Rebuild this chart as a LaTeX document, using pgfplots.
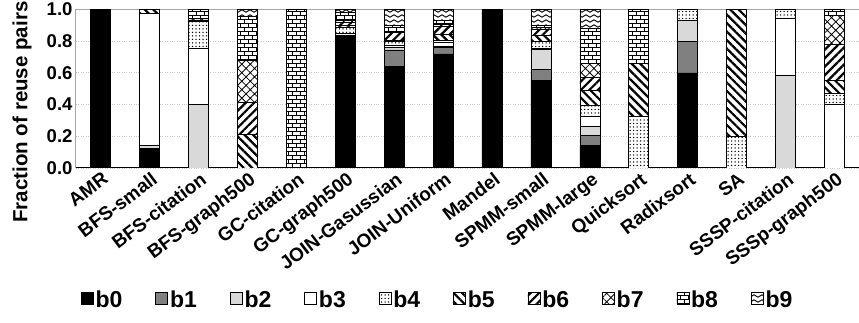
\documentclass[border=0pt]{standalone}
\usepackage{fontspec}
\setmainfont{Liberation Sans}
\usepackage{pgfplots}
\pgfplotsset{compat=1.18}
\usepackage{pgfplotstable}
\usetikzlibrary{patterns,patterns.meta}

\pgfdeclarepatternformonly{mybricks}{\pgfqpoint{-1pt}{-1pt}}{\pgfqpoint{9pt}{9pt}}{\pgfqpoint{8pt}{8pt}}{%
  \pgfsetlinewidth{0.9pt}%
  \pgfpathmoveto{\pgfqpoint{0pt}{0pt}}\pgfpathlineto{\pgfqpoint{8pt}{0pt}}%
  \pgfpathmoveto{\pgfqpoint{0pt}{4pt}}\pgfpathlineto{\pgfqpoint{8pt}{4pt}}%
  \pgfpathmoveto{\pgfqpoint{0pt}{0pt}}\pgfpathlineto{\pgfqpoint{0pt}{4pt}}%
  \pgfpathmoveto{\pgfqpoint{4pt}{4pt}}\pgfpathlineto{\pgfqpoint{4pt}{8pt}}%
  \pgfusepath{stroke}}
\pgfdeclarepatternformonly{mywaves}{\pgfqpoint{-1pt}{-1pt}}{\pgfqpoint{9pt}{6pt}}{\pgfqpoint{8pt}{5pt}}{%
  \pgfsetlinewidth{0.9pt}%
  \pgfpathmoveto{\pgfqpoint{0pt}{2pt}}%
  \pgfpathcurveto{\pgfqpoint{1.3pt}{3.6pt}}{\pgfqpoint{2.7pt}{3.6pt}}{\pgfqpoint{4pt}{2pt}}%
  \pgfpathcurveto{\pgfqpoint{5.3pt}{0.4pt}}{\pgfqpoint{6.7pt}{0.4pt}}{\pgfqpoint{8pt}{2pt}}%
  \pgfusepath{stroke}}

\pgfplotstableread{
idx b0 b1 b2 b3 b4 b5 b6 b7 b8 b9
0 1.0 0 0 0 0 0 0 0 0 0
1 0.12 0.005 0.02 0.83 0 0.025 0 0 0 0
2 0 0 0.40 0.355 0.172 0.008 0.009 0 0.056 0
3 0 0 0 0 0 0.21 0.205 0.265 0.275 0.045
4 0 0 0 0 0 0 0 0 1.0 0
5 0.83 0 0.01 0.01 0.04 0.01 0.02 0.01 0.05 0.02
6 0.64 0.105 0.015 0.015 0.025 0.005 0.05 0.005 0.04 0.10
7 0.72 0.04 0.01 0.02 0.015 0.04 0.05 0.01 0.025 0.07
8 1.0 0 0 0 0 0 0 0 0 0
9 0.551 0.072 0.126 0.008 0.04 0.043 0.037 0.01 0.011 0.102
10 0.145 0.063 0.057 0.063 0.069 0.095 0.08 0.088 0.22 0.12
11 0 0 0 0 0.328 0.332 0 0 0.34 0
12 0.60 0.197 0.133 0 0.07 0 0 0 0 0
13 0 0 0 0 0.198 0.802 0 0 0 0
14 0 0 0.587 0.357 0.056 0 0 0 0 0
15 0 0 0 0.404 0.067 0.084 0.227 0.183 0.035 0
}\data

\pgfplotsset{legimg/.style={legend image code/.code={\draw[##1] (0pt,-4pt) rectangle (12pt,8pt);}}}

\begin{document}
\begin{tikzpicture}
\begin{axis}[
  scale only axis, width=783pt, height=158.5pt,
  ybar stacked, bar width=20pt,
  xmin=-0.5, xmax=15.5, ymin=0, ymax=1,
  xtick={0,...,15},
  xticklabels={AMR,BFS-small,BFS-citation,BFS-graph500,GC-citation,GC-graph500,JOIN-Gasussian,JOIN-Uniform,Mandel,SPMM-small,SPMM-large,Quicksort,Radixsort,SA,SSSP-citation,SSSp-graph500},
  x tick label style={rotate=37, anchor=north east, font=\bfseries\fontsize{19}{19}\selectfont, inner sep=1pt, yshift=-2pt},
  ytick={0,0.2,0.4,0.6,0.8,1.0},
  yticklabel style={/pgf/number format/.cd, fixed, fixed zerofill, precision=1, /tikz/.cd, font=\bfseries\fontsize{18.5}{18.5}\selectfont},
  /pgf/number format/assume math mode=true,
  major tick length=0pt,
  every axis y label/.style={at={(axis description cs:-0.069,0.353)}, rotate=90, anchor=center},
  ylabel={Fraction of reuse pairs},
  ylabel style={font=\bfseries\fontsize{20.5}{20.5}\selectfont},
  ymajorgrids, grid style={dotted, gray!40, line width=0.8pt},
  axis line style={gray!70, line width=1pt},
  every axis plot/.append style={draw=black, line width=0.6pt},
  legend style={at={(axis description cs:0.462,-0.835)}, anchor=center, legend columns=10, draw=none, fill=none,
    font=\bfseries\fontsize{23}{23}\selectfont,
    /tikz/every even column/.append style={column sep=31pt}},
]
\addplot[fill=black, legimg] table[x=idx,y=b0]{\data};
\addplot[fill=gray, legimg] table[x=idx,y=b1]{\data};
\addplot[fill=black!15, legimg] table[x=idx,y=b2]{\data};
\addplot[fill=white, legimg] table[x=idx,y=b3]{\data};
\addplot[fill=white, postaction={pattern={Dots[distance=3.5pt,radius=0.75pt]}}, legimg] table[x=idx,y=b4]{\data};
\addplot[fill=white, postaction={pattern={Lines[angle=-45,distance=6pt,line width=2.2pt]}}, legimg] table[x=idx,y=b5]{\data};
\addplot[fill=white, postaction={pattern={Lines[angle=45,distance=6pt,line width=2.2pt]}}, legimg] table[x=idx,y=b6]{\data};
\addplot[fill=white, postaction={pattern={Hatch[angle=45,distance=6pt,line width=0.8pt]}}, legimg] table[x=idx,y=b7]{\data};
\addplot[fill=white, postaction={pattern=mybricks}, legimg] table[x=idx,y=b8]{\data};
\addplot[fill=white, postaction={pattern=mywaves}, legimg] table[x=idx,y=b9]{\data};
\legend{b0,b1,b2,b3,b4,b5,b6,b7,b8,b9}
\draw[black, line width=1.2pt] (rel axis cs:0,0) -- (rel axis cs:1,0);
\end{axis}
\pgfresetboundingbox
\path (-76pt,-155pt) rectangle (783pt,168pt);
\end{tikzpicture}
\end{document}
